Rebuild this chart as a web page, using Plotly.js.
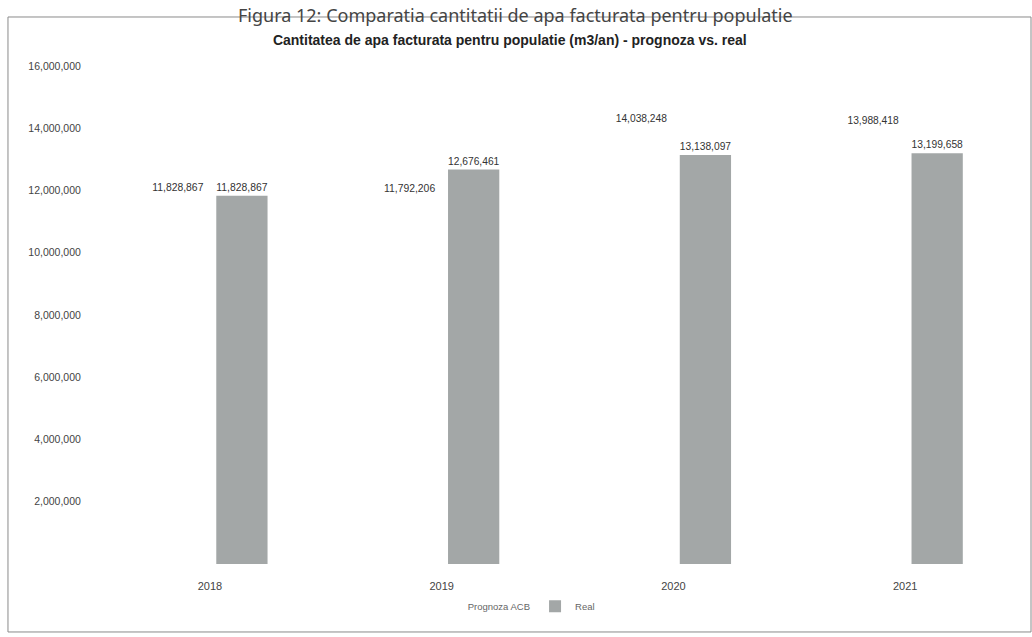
<!DOCTYPE html>
<html>
<head>
<meta charset="utf-8">
<script src="https://cdn.plot.ly/plotly-3.0.1.min.js"></script>
<style>html,body{margin:0;padding:0;background:#fff;}#chart{width:1032px;height:637px;}</style>
</head>
<body>
<div id="chart"></div>
<script>
const categories = ['2018', '2019', '2020', '2021'];
const prognozaValues = [11828867, 11792206, 14038248, 13988418];
const realValues = [11828867, 12676461, 13138097, 13199658];
const yTickValues = [2000000, 4000000, 6000000, 8000000, 10000000, 12000000, 14000000, 16000000];
const seriesNames = ['Prognoza ACB', 'Real'];

const fmt = v => v.toLocaleString('en-US');

const traces = [
  {
    type: 'bar', name: seriesNames[0], x: categories, y: prognozaValues,
    marker: {color: 'rgba(255,255,255,0)'},
    text: prognozaValues.map(fmt), textposition: 'outside', cliponaxis: false,
    textfont: {family: 'Liberation Sans, Arial, sans-serif', size: 11, color: '#333'},
    hoverinfo: 'skip'
  },
  {
    type: 'bar', name: seriesNames[1], x: categories, y: realValues,
    marker: {color: '#a3a7a7'},
    text: realValues.map(fmt), textposition: 'outside', cliponaxis: false,
    textfont: {family: 'Liberation Sans, Arial, sans-serif', size: 11, color: '#333'},
    hoverinfo: 'skip'
  }
];

const layout = {
  width: 1032, height: 637,
  margin: {l: 94, r: 11, t: 66, b: 73},
  paper_bgcolor: '#fff', plot_bgcolor: '#fff',
  barmode: 'group', bargap: 0.447, bargroupgap: 0.2,
  showlegend: true,
  legend: {orientation: 'h', x: 0.36, xanchor: 'left', y: -0.085, yanchor: 'middle',
    font: {family: 'Liberation Sans, Arial, sans-serif', size: 9.5, color: '#666'},
    itemwidth: 30, traceorder: 'normal'},
  title: {text: '<b>Cantitatea de apa facturata pentru populatie (m3/an) - prognoza vs. real</b>',
    x: 0.494, xanchor: 'center', y: 0.937, yanchor: 'middle',
    font: {family: 'Liberation Sans, Arial, sans-serif', size: 14, color: '#222'}},
  xaxis: {type: 'category', showgrid: false, zeroline: false, showline: false,
    ticks: 'outside', ticklen: 12, tickcolor: 'rgba(0,0,0,0)',
    tickfont: {family: 'Liberation Sans, Arial, sans-serif', size: 11, color: '#444'}},
  yaxis: {range: [0, 16000000], tickvals: yTickValues, tickformat: ',d',
    showgrid: false, zeroline: false, showline: false,
    ticks: 'outside', ticklen: 10, tickcolor: 'rgba(0,0,0,0)',
    tickfont: {family: 'Liberation Sans, Arial, sans-serif', size: 10.5, color: '#444'}},
  shapes: [
    {type: 'rect', xref: 'paper', yref: 'paper', x0: -0.0928, x1: 1.0108, y0: -0.1365, y1: 1.0984,
     line: {color: '#8a8a8a', width: 1}, fillcolor: 'rgba(0,0,0,0)', layer: 'below'}
  ],
  annotations: [
    {text: 'Figura 12: Comparatia cantitatii de apa facturata pentru populatie',
     xref: 'paper', yref: 'paper', x: 0.455, y: 1.1305, xanchor: 'center', yanchor: 'top',
     showarrow: false, font: {family: 'Noto Sans, Open Sans, sans-serif', size: 18, color: '#444'}}
  ]
};

Plotly.newPlot('chart', traces, layout, {displayModeBar: false, staticPlot: true});
</script>
</body>
</html>
